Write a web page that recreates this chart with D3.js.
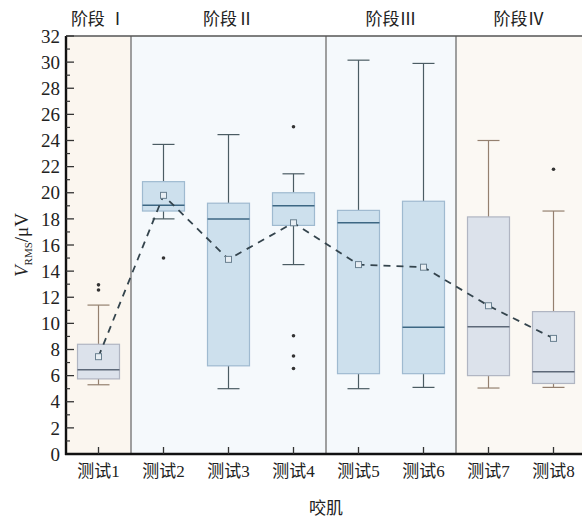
<!DOCTYPE html>
<html>
<head>
<meta charset="utf-8">
<script src="https://cdn.jsdelivr.net/npm/d3@7"></script>
<style>
  body { margin: 0; background: #fff; }
  text { font-family: "Liberation Serif", "Times New Roman", "Noto Sans CJK SC", serif; fill: #222; }
</style>
</head>
<body>
<svg id="chart"></svg>
<script>
// ---- data ----
const tests = ["测试1", "测试2", "测试3", "测试4", "测试5", "测试6", "测试7", "测试8"];
const whiskerLow = [5.3, 18.0, 5.0, 14.5, 5.0, 5.1, 5.05, 5.1];
const q1 = [5.75, 18.6, 6.75, 17.5, 6.15, 6.15, 6.0, 5.4];
const medians = [6.45, 19.05, 18.0, 19.0, 17.7, 9.7, 9.75, 6.3];
const q3 = [8.4, 20.85, 19.2, 20.0, 18.65, 19.35, 18.15, 10.9];
const whiskerHigh = [11.4, 23.7, 24.45, 21.45, 30.15, 29.9, 24.0, 18.6];
const means = [7.45, 19.8, 14.9, 17.7, 14.5, 14.3, 11.35, 8.85];
const outliers = [[12.55, 12.95], [15.0], [], [25.05, 9.05, 7.5, 6.55], [], [], [], [21.8]];
const stages = ["阶段 Ⅰ", "阶段Ⅱ", "阶段Ⅲ", "阶段Ⅳ"];
const stageSpan = [[0, 0], [1, 3], [4, 5], [6, 7]];   // first/last test of each stage
const yTicks = d3.range(0, 33, 2);

// ---- layout ----
const width = 582, height = 520;
const svg = d3.select("#chart").attr("width", width).attr("height", height);

const x = d3.scaleBand().domain(tests).range([66, 586]);
const y = d3.scaleLinear().domain([0, 32]).range([454, 36]);

const stageBg = ["#fbf6ef", "#f5f9fc", "#f5f9fc", "#fbf8f3"];
const warm = i => i === 0 || i >= 6;
const boxFill = i => warm(i) ? "#dce2eb" : "#cde0ed";
const boxStroke = i => warm(i) ? "#b0b5c2" : "#9fbad0";
const whiskerCol = i => warm(i) ? "#94806f" : "#4b5c63";
const medianCol = i => warm(i) ? "#5d6878" : "#3d6783";

// stage backgrounds
const stageX0 = s => s === 0 ? 66 : x(tests[stageSpan[s][0]]);
const stageX1 = s => s === 3 ? width : x(tests[stageSpan[s][1]]) + x.bandwidth();
svg.append("g").selectAll("rect").data(stages).join("rect")
  .attr("x", (d, s) => stageX0(s))
  .attr("y", 36)
  .attr("width", (d, s) => stageX1(s) - stageX0(s))
  .attr("height", 454 - 36)
  .attr("fill", (d, s) => stageBg[s]);

// stage dividers
svg.append("g").selectAll("line").data([1, 2, 3]).join("line")
  .attr("x1", s => stageX0(s)).attr("x2", s => stageX0(s))
  .attr("y1", 36).attr("y2", 454)
  .attr("stroke", "#959595").attr("stroke-width", 1.8);

// stage labels
svg.append("g").selectAll("text").data(stages).join("text")
  .attr("x", (d, s) => (stageX0(s) + stageX1(s)) / 2)
  .attr("y", 25)
  .attr("text-anchor", "middle")
  .style("font-size", "17px")
  .text(d => d);

// top border
svg.append("line").attr("x1", 66).attr("x2", width).attr("y1", 36).attr("y2", 36)
  .attr("stroke", "#555").attr("stroke-width", 1.5);

// boxes
const boxW = 42, capW = 22;
const g = svg.append("g");
tests.forEach((t, i) => {
  const cx = x(t) + x.bandwidth() / 2;
  // whiskers
  [[whiskerLow[i], q1[i]], [q3[i], whiskerHigh[i]]].forEach(([a, b]) => {
    g.append("line").attr("x1", cx).attr("x2", cx).attr("y1", y(a)).attr("y2", y(b))
      .attr("stroke", whiskerCol(i)).attr("stroke-width", 1.2);
  });
  [whiskerLow[i], whiskerHigh[i]].forEach(v => {
    g.append("line").attr("x1", cx - capW / 2).attr("x2", cx + capW / 2).attr("y1", y(v)).attr("y2", y(v))
      .attr("stroke", whiskerCol(i)).attr("stroke-width", 1.2);
  });
  g.append("rect")
    .attr("x", cx - boxW / 2).attr("y", y(q3[i]))
    .attr("width", boxW).attr("height", y(q1[i]) - y(q3[i]))
    .attr("fill", boxFill(i)).attr("stroke", boxStroke(i)).attr("stroke-width", 1.2);
  g.append("line").attr("x1", cx - boxW / 2).attr("x2", cx + boxW / 2)
    .attr("y1", y(medians[i])).attr("y2", y(medians[i]))
    .attr("stroke", medianCol(i)).attr("stroke-width", 1.5);
  outliers[i].forEach(v => {
    g.append("circle").attr("cx", cx).attr("cy", y(v)).attr("r", 1.8).attr("fill", "#333");
  });
});

// mean line
const cxOf = i => x(tests[i]) + x.bandwidth() / 2;
svg.append("path")
  .datum(means)
  .attr("d", d3.line().x((d, i) => cxOf(i)).y(d => y(d)))
  .attr("fill", "none").attr("stroke", "#34444d").attr("stroke-width", 1.8)
  .attr("stroke-dasharray", "7,6");
svg.append("g").selectAll("rect").data(means).join("rect")
  .attr("x", (d, i) => cxOf(i) - 3).attr("y", d => y(d) - 3)
  .attr("width", 6).attr("height", 6)
  .attr("fill", "#e8eef3").attr("stroke", "#6a8090").attr("stroke-width", 1);

// y axis
const yAxis = svg.append("g").attr("transform", "translate(66,0)");
yAxis.append("line").attr("x1", 0).attr("x2", 0).attr("y1", 36).attr("y2", 455)
  .attr("stroke", "#111").attr("stroke-width", 2.4);
yAxis.selectAll(".minor").data(d3.range(1, 32, 2)).join("line")
  .attr("x1", 0).attr("x2", 4).attr("y1", d => y(d)).attr("y2", d => y(d))
  .attr("stroke", "#333").attr("stroke-width", 1.2);
yAxis.selectAll(".major").data(yTicks).join("line")
  .attr("x1", 0).attr("x2", 8).attr("y1", d => y(d)).attr("y2", d => y(d))
  .attr("stroke", "#333").attr("stroke-width", 1.3);
yAxis.selectAll("text").data(yTicks).join("text")
  .attr("x", -6).attr("y", d => y(d)).attr("dy", "0.35em")
  .attr("text-anchor", "end").style("font-size", "19px")
  .text(d => d);

// x axis
const xAxis = svg.append("g");
xAxis.append("line").attr("x1", 65).attr("x2", width).attr("y1", 454).attr("y2", 454)
  .attr("stroke", "#111").attr("stroke-width", 2.4);
xAxis.selectAll(".tick").data(tests).join("line")
  .attr("x1", d => x(d) + x.bandwidth() / 2).attr("x2", d => x(d) + x.bandwidth() / 2)
  .attr("y1", 454).attr("y2", 447)
  .attr("stroke", "#333").attr("stroke-width", 1.3);
xAxis.selectAll("text").data(tests).join("text")
  .attr("x", d => x(d) + x.bandwidth() / 2).attr("y", 477)
  .attr("text-anchor", "middle").style("font-size", "17px")
  .text(d => d);

// axis titles
svg.append("text").attr("x", 326).attr("y", 514).attr("text-anchor", "middle")
  .style("font-size", "17px").text("咬肌");

const yt = svg.append("text").attr("transform", "translate(28,245) rotate(-90)")
  .attr("text-anchor", "middle").style("font-size", "19px");
yt.append("tspan").style("font-style", "italic").text("V");
yt.append("tspan").style("font-size", "11px").attr("dy", 4).text("RMS");
yt.append("tspan").attr("dy", -4).text("/μV");
</script>
</body>
</html>
